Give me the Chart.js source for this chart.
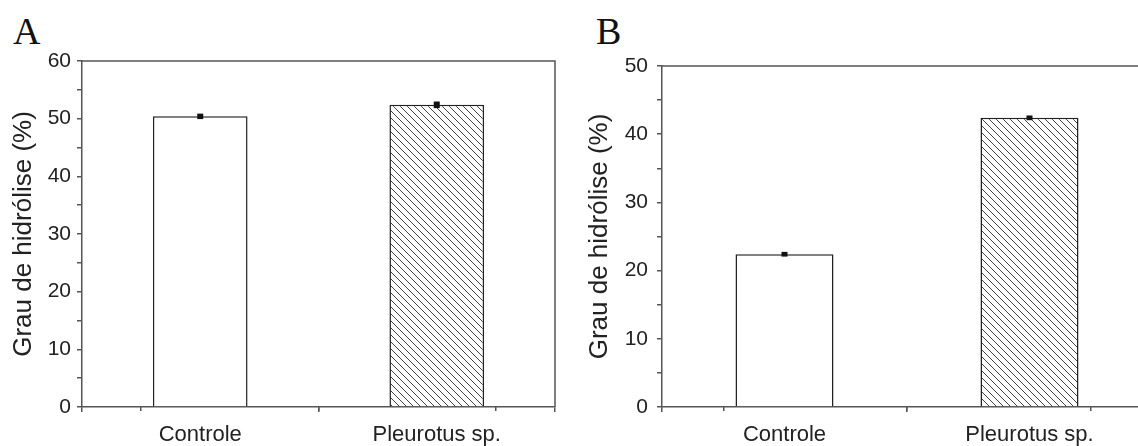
<!DOCTYPE html>
<html>
<head>
<meta charset="utf-8">
<script src="https://cdn.jsdelivr.net/npm/chart.js@4.4.1/dist/chart.umd.min.js"></script>
<style>
  html, body { margin: 0; padding: 0; background: #fff; overflow: hidden; width: 1138px; height: 446px; }
  #chartA { position: absolute; left: 0; top: 0; }
  #chartB { position: absolute; left: 576px; top: 0; }
  .panel { position: absolute; top: 9px; font-family: "Liberation Serif", serif; font-size: 38px; color: #111; }
</style>
</head>
<body>
<div class="panel" style="left:13px">A</div>
<div class="panel" style="left:596px">B</div>
<canvas id="chartA" width="570" height="446"></canvas>
<canvas id="chartB" width="586" height="446"></canvas>
<script>
// categorias e valores
let categories = ['Controle', 'Pleurotus sp.'];

let valuesA = [50.4, 52.4];
let errorsA = [0.3, 0.4];

let valuesB = [22.4, 42.4];
let errorsB = [0.2, 0.2];

let yTitle = 'Grau de hidrólise (%)';

// hachura diagonal para a barra do Pleurotus
function makeHatch() {
    let c = document.createElement('canvas');
    c.width = 7;
    c.height = 7;
    let g = c.getContext('2d');
    g.fillStyle = '#fff';
    g.fillRect(0, 0, 7, 7);
    g.strokeStyle = '#444';
    g.lineWidth = 1;
    for (let k = -1; k <= 1; k++) {
        g.beginPath();
        g.moveTo(k * 7, 0);
        g.lineTo(k * 7 + 7, 7);
        g.stroke();
    }
    return g.createPattern(c, 'repeat');
}
let hatch = makeHatch();

// barras de erro e moldura do grafico
let errorBarPlugin = {
    id: 'errorBars',
    afterDatasetsDraw(chart) {
        let ctx = chart.ctx;
        let yScale = chart.scales.y;
        let meta = chart.getDatasetMeta(0);
        let opts = chart.options.plugins.errorBars;
        ctx.save();
        ctx.fillStyle = '#111';
        meta.data.forEach((bar, i) => {
            let v = chart.data.datasets[0].data[i];
            let top = yScale.getPixelForValue(v + opts.errors[i]);
            let bottom = yScale.getPixelForValue(v - opts.errors[i]);
            ctx.fillRect(bar.x - 3, top - 1, 6, bottom - top + 2);
        });
        // moldura: topo (e lado direito quando visivel)
        let a = chart.chartArea;
        ctx.strokeStyle = '#555';
        ctx.lineWidth = 1.5;
        ctx.beginPath();
        ctx.moveTo(a.left, a.top);
        ctx.lineTo(a.right, a.top);
        if (opts.rightBorder) {
            ctx.lineTo(a.right, a.bottom);
        }
        ctx.stroke();
        ctx.restore();
    }
};

function makeChart(id, values, errors, yMax, padTop, padRight, yPad, axisWidth, rightBorder) {
    let ctx = document.getElementById(id).getContext('2d');
    return new Chart(ctx, {
        type: 'bar',
        data: {
            labels: categories,
            datasets: [{
                data: values,
                backgroundColor: ['#ffffff', hatch],
                borderColor: '#222',
                borderWidth: 1.5,
                borderSkipped: 'start',
                barPercentage: 0.4,
                categoryPercentage: 1.0
            }]
        },
        options: {
            responsive: false,
            animation: false,
            layout: { padding: { top: padTop, right: padRight, left: 0, bottom: 0 } },
            plugins: {
                legend: { display: false },
                tooltip: { enabled: false },
                errorBars: { errors: errors, rightBorder: rightBorder }
            },
            scales: {
                x: {
                    weight: 1,
                    grid: { offset: true, drawOnChartArea: false, drawTicks: true, tickLength: 5, color: '#555', lineWidth: 1.5 },
                    border: { display: true, color: '#555', width: 1.5 },
                    ticks: { color: '#222', padding: 10, font: { family: 'Liberation Sans', size: 22 } },
                    afterFit: function(scale) { scale.height = 39; }
                },
                xm: {
                    type: 'linear',
                    position: 'bottom',
                    weight: 0,
                    min: 0,
                    max: 8,
                    afterBuildTicks: function(scale) { scale.ticks = [{ value: 1 }, { value: 7 }]; },
                    grid: { drawOnChartArea: false, drawTicks: true, tickLength: 4, color: '#555', lineWidth: 1.5 },
                    border: { display: false },
                    ticks: { display: false },
                    afterFit: function(scale) { scale.height = 0; }
                },
                y: {
                    min: 0,
                    max: yMax,
                    ticks: {
                        stepSize: 5,
                        color: '#222',
                        padding: yPad,
                        font: { family: 'Liberation Sans', size: 21 },
                        callback: function(v) { return v % 10 === 0 ? v : ''; }
                    },
                    grid: {
                        drawOnChartArea: false,
                        drawTicks: true,
                        tickLength: 5,
                        color: '#555',
                        lineWidth: 1.5
                    },
                    border: { display: true, color: '#555', width: 1.5 },
                    title: {
                        display: true,
                        text: yTitle,
                        color: '#222',
                        padding: { top: 8, bottom: 0 },
                        font: { family: 'Liberation Sans', size: 26, weight: 'normal' }
                    },
                    afterFit: function(scale) { scale.width = axisWidth; }
                }
            }
        },
        plugins: [errorBarPlugin]
    });
}

let chartA = makeChart('chartA', valuesA, errorsA, 60, 61, 15, 6, 82, true);
let chartB = makeChart('chartB', valuesB, errorsB, 50, 66, 10, 9, 86, false);
</script>
</body>
</html>
